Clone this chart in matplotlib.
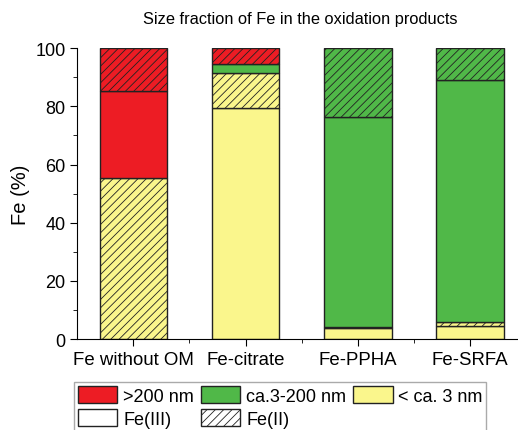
import matplotlib.pyplot as plt
from matplotlib.patches import Patch
import numpy as np

plt.rcParams['font.family'] = ['Liberation Sans', 'DejaVu Sans']
plt.rcParams['hatch.color'] = '#444433'
plt.rcParams['hatch.linewidth'] = 0.6

samples = ["Fe without OM", "Fe-citrate", "Fe-PPHA", "Fe-SRFA"]

# size fractions, split into Fe(III) (solid) and Fe(II) (hatched)
small_fe3 = [0.0, 79.5, 3.7, 4.6]
small_fe2 = [55.5, 11.8, 0.5, 1.1]
mid_fe3 = [0.0, 3.2, 72.2, 83.4]
mid_fe2 = [0.0, 0.0, 23.6, 10.9]
large_fe3 = [29.8, 0.0, 0.0, 0.0]
large_fe2 = [14.7, 5.5, 0.0, 0.0]

red = "#ED1C24"
green = "#50B848"
yellow = "#FAF68C"

segments = [
    (small_fe3, yellow, ""),
    (small_fe2, yellow, "////"),
    (mid_fe3, green, ""),
    (mid_fe2, green, "////"),
    (large_fe3, red, ""),
    (large_fe2, red, "////"),
]

fig = plt.figure(figsize=(5.18, 4.31), dpi=100)
ax = fig.add_axes([0.149, 0.211, 0.867, 0.675])

x = np.arange(len(samples))
bottom = np.zeros(len(samples))
for vals, col, hatch in segments:
    vals = np.array(vals)
    for i in range(len(samples)):
        if vals[i] > 0:
            ax.bar(x[i], vals[i], width=0.6, bottom=bottom[i], color=col,
                   edgecolor="#222222", linewidth=1.0, hatch=hatch)
    bottom += vals

ax.set_xlim(-0.5, 3.5)
ax.set_ylim(0, 100)
ax.set_xticks(x)
ax.set_xticklabels(samples, fontsize=13.4)
ax.set_xticks(x[:-1] + 0.5, minor=True)
ax.set_yticks(range(0, 101, 20))
ax.set_yticks(range(10, 100, 20), minor=True)
ax.tick_params(axis="y", labelsize=13)
ax.tick_params(which="major", length=5, direction="out")
ax.tick_params(which="minor", length=3, direction="out")
ax.spines["top"].set_visible(False)
ax.spines["right"].set_visible(False)
ax.set_ylabel("Fe (%)", fontsize=14.5, labelpad=4)
fig.text(0.58, 0.955, "Size fraction of Fe in the oxidation products",
         ha="center", va="center", fontsize=11.8)

handles = [
    Patch(facecolor=red, edgecolor="#222222", label=">200 nm"),
    Patch(facecolor="white", edgecolor="#222222", label="Fe(III)"),
    Patch(facecolor=green, edgecolor="#222222", label="ca.3-200 nm"),
    Patch(facecolor="white", edgecolor="#222222", hatch="////", label="Fe(II)"),
    Patch(facecolor=yellow, edgecolor="#222222", label="< ca. 3 nm"),
]
leg = fig.legend(handles=handles, ncol=3, loc="upper left",
                 bbox_to_anchor=(0.143, 0.111), fontsize=13,
                 fancybox=False, edgecolor="#aaaaaa", framealpha=1,
                 handlelength=2.2, handleheight=1.1, handletextpad=0.32,
                 columnspacing=0.37, labelspacing=0.25, borderpad=0.2,
                 borderaxespad=0)

fig.savefig("out.png", dpi=100)
